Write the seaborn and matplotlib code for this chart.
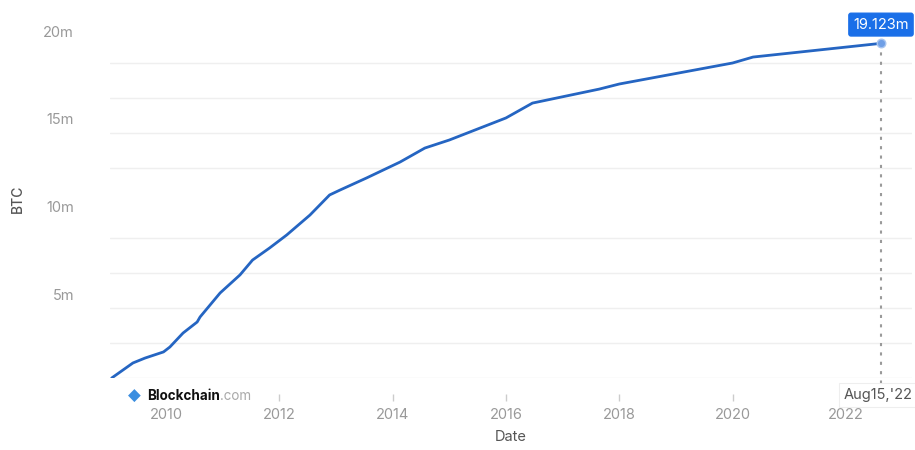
import matplotlib
matplotlib.use("Agg")
import matplotlib.pyplot as plt
import matplotlib.dates as mdates
import matplotlib.transforms as mtransforms
from matplotlib.ticker import FixedLocator, FixedFormatter
import seaborn as sns
import pandas as pd

# ---- data ----
dates = ["2009-01-15", "2009-06-01", "2009-08-18", "2009-12-15", "2010-01-25",
         "2010-04-20", "2010-07-20", "2010-08-08", "2010-12-15", "2011-04-22",
         "2011-07-12", "2011-10-30", "2012-02-17", "2012-07-16", "2012-11-20",
         "2013-01-26", "2013-07-16", "2014-02-17", "2014-07-27", "2015-01-01",
         "2016-01-01", "2016-06-20", "2017-08-25", "2018-01-01", "2020-01-01",
         "2020-05-12", "2022-08-15"]
btc_millions = [0.0, 0.86, 1.14, 1.49, 1.77,
                2.57, 3.20, 3.49, 4.86, 5.89,
                6.74, 7.43, 8.17, 9.31, 10.46,
                10.74, 11.43, 12.34, 13.14, 13.60,
                14.86, 15.71, 16.51, 16.80, 18.00,
                18.34, 19.123]
year_ticks = [2010, 2012, 2014, 2016, 2018, 2020, 2022]
y_label_ticks = [5, 10, 15, 20]
y_grid_ticks = [0, 2, 4, 6, 8, 10, 12, 14, 16, 18, 20]
last_label = "19.123m"
last_date_label = "Aug15,'22"

df = pd.DataFrame({"Date": pd.to_datetime(dates), "BTC": btc_millions})

sns.set_theme(style="white")
plt.rcParams["font.family"] = ["Inter", "DejaVu Sans"]

W, H = 915, 450
fig = plt.figure(figsize=(W / 100, H / 100), dpi=100)
ax = fig.add_axes([110 / W, 72 / H, 802 / W, 358.75 / H])

sns.lineplot(data=df, x="Date", y="BTC", ax=ax, color="#2565c2", linewidth=2.0)

ax.set_xlim(pd.Timestamp("2009-01-04"), pd.Timestamp("2023-03-03"))
ax.set_ylim(0, 20.5)

for s in ax.spines.values():
    s.set_visible(False)

# y axis
ax.yaxis.set_major_locator(FixedLocator(y_label_ticks))
ax.yaxis.set_major_formatter(FixedFormatter([f"{v}m" for v in y_label_ticks]))
ax.yaxis.set_minor_locator(FixedLocator(y_grid_ticks))
ax.grid(False)
ax.grid(which="minor", axis="y", color="#efefef", linewidth=1.0)
ax.tick_params(axis="y", which="both", length=0, pad=26, labelsize=10.5,
               labelcolor="#999999")
offset = mtransforms.ScaledTranslation(0, -3.5 / 100, fig.dpi_scale_trans)
for lbl in ax.get_yticklabels():
    lbl.set_transform(lbl.get_transform() + offset)

# x axis
ax.spines["bottom"].set_position(("outward", 11.25))
ax.xaxis.set_major_locator(FixedLocator([mdates.date2num(pd.Timestamp(f"{y}-01-01")) for y in year_ticks]))
ax.xaxis.set_major_formatter(FixedFormatter([str(y) for y in year_ticks]))
ax.tick_params(axis="x", which="major", bottom=True, length=5.25, width=1,
               color="#cccccc", pad=5, labelsize=10.5, labelcolor="#999999")

ax.set_xlabel("Date", fontsize=10.5, color="#555555", labelpad=6)
ax.set_ylabel("BTC", fontsize=10, color="#555555", fontweight="medium")
ax.yaxis.set_label_coords(-85 / 802, 0.5)

# last point marker, dotted line, labels
last_x = df["Date"].iloc[-1]
last_y = df["BTC"].iloc[-1]
ax.plot([last_x, last_x], [last_y, -0.3], color="#9a9a9a", linestyle=(0, (1.5, 3)),
        linewidth=1.5, clip_on=False, zorder=2)
ax.scatter([last_x], [last_y], s=38, color="#6f9fe6", edgecolor="#a9c6f0",
           linewidth=1, zorder=5, clip_on=False)
ax.annotate(last_label, xy=(last_x, last_y), xytext=(0, 13.5), textcoords="offset points",
            ha="center", va="center", fontsize=10.5, color="white",
            bbox=dict(boxstyle="round,pad=0.3,rounding_size=0.15", fc="#1a6fe8", ec="#1a6fe8"),
            annotation_clip=False, zorder=6)
ax.annotate(last_date_label, xy=(last_x, 0), xycoords=("data", "axes fraction"),
            xytext=(-2, -12.5), textcoords="offset points",
            ha="center", va="center", fontsize=10.5, color="#555555",
            bbox=dict(boxstyle="square,pad=0.35", fc="white", ec="#eeeeee", lw=0.8),
            annotation_clip=False, zorder=6)

# Blockchain.com watermark
icon = fig.text(128 / W, 1 - 396 / H, "◆", color="#3b8ee0", fontsize=12,
                ha="left", va="center", family=["DejaVu Sans"])
t1 = fig.text(147 / W, 1 - 396 / H, "Blockchain", color="#111111", fontsize=9.7,
              fontweight="bold", ha="left", va="center",
              bbox=dict(boxstyle="square,pad=0.05", fc="white", ec="none"))
ax.annotate(".com", xy=(1, 0), xycoords=t1, xytext=(0, 0), textcoords="offset points",
            ha="left", va="bottom", fontsize=9.7, color="#aaaaaa", annotation_clip=False)

fig.savefig("out.png", dpi=100, facecolor="white")
